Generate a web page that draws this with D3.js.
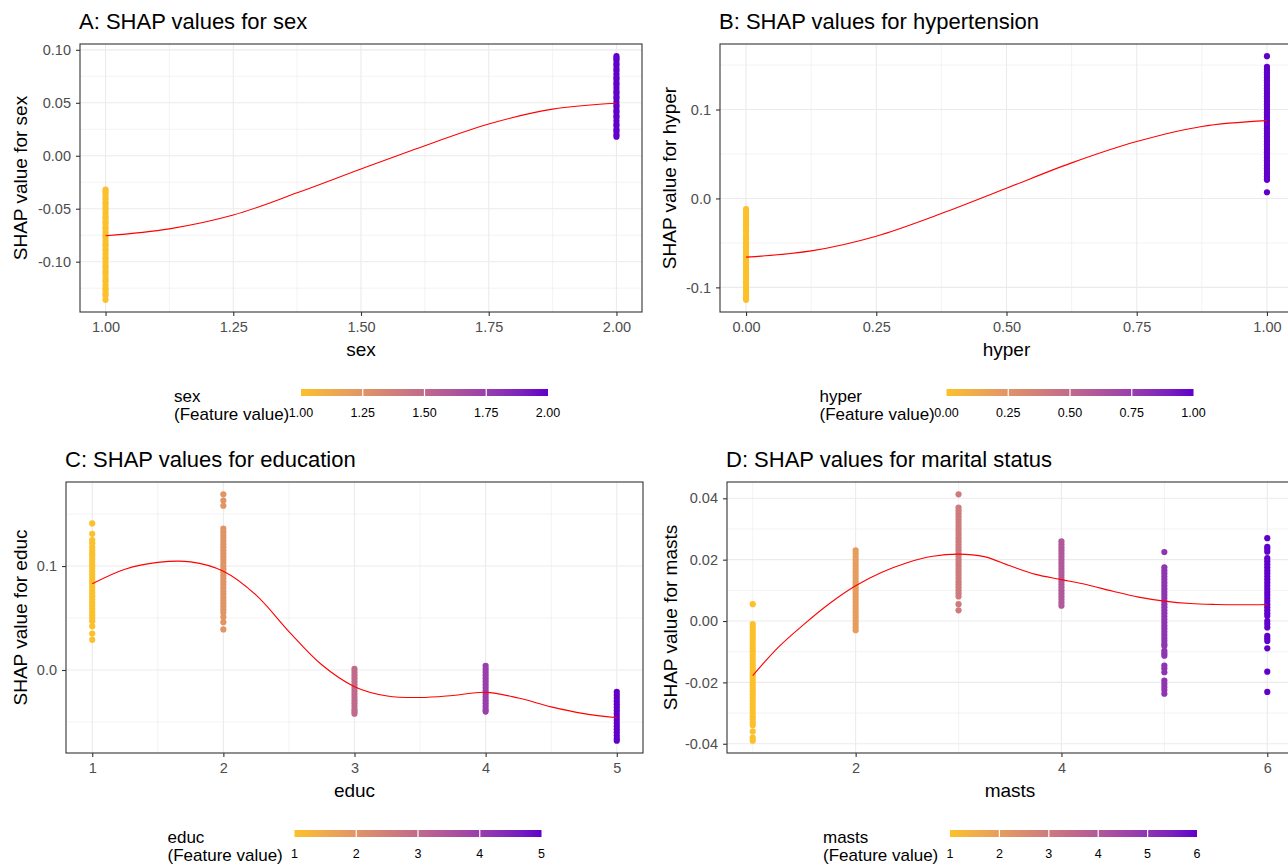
<!DOCTYPE html>
<html>
<head>
<meta charset="utf-8">
<script src="https://cdn.jsdelivr.net/npm/d3@7"></script>
<style>
  body { margin: 0; background: #fff; }
  svg { display: block; font-family: "Liberation Sans", Arial, Helvetica, sans-serif; }
</style>
</head>
<body>
<div id="chart"></div>
<script>
// ---- A: sex ----
const sexValues = [1, 2];
const sexShap = [
  [-0.032, -0.034, -0.036, -0.039, -0.041, -0.044, -0.046, -0.049, -0.051, -0.054, -0.057, -0.059, -0.062, -0.064,
   -0.067, -0.069, -0.072, -0.075, -0.077, -0.080, -0.083, -0.085, -0.088, -0.090, -0.093, -0.096, -0.098, -0.101,
   -0.104, -0.106, -0.109, -0.111, -0.114, -0.117, -0.119, -0.122, -0.125, -0.127, -0.130, -0.132, -0.136],
  [0.018, 0.020, 0.023, 0.025, 0.028, 0.030, 0.033, 0.036, 0.038, 0.041, 0.043, 0.046, 0.048, 0.051, 0.054, 0.056,
   0.059, 0.061, 0.064, 0.067, 0.069, 0.072, 0.074, 0.077, 0.080, 0.082, 0.085, 0.087, 0.090, 0.092, 0.094]
];
const sexSmoothX = [1, 1.125, 1.25, 1.375, 1.5, 1.625, 1.75, 1.875, 2];
const sexSmoothY = [-0.0755, -0.0690, -0.0560, -0.0350, -0.0125, 0.0095, 0.0300, 0.0440, 0.0495];
const sexXTicks = ["1.00", "1.25", "1.50", "1.75", "2.00"];
const sexYTicks = ["-0.10", "-0.05", "0.00", "0.05", "0.10"];
const sexLegendTicks = ["1.00", "1.25", "1.50", "1.75", "2.00"];

// ---- B: hypertension ----
const hyperValues = [0, 1];
const hyperShap = [
  [-0.012, -0.015, -0.017, -0.020, -0.023, -0.026, -0.029, -0.032, -0.035, -0.037, -0.040, -0.043, -0.046, -0.049,
   -0.052, -0.055, -0.058, -0.061, -0.063, -0.066, -0.069, -0.072, -0.075, -0.078, -0.081, -0.084, -0.087, -0.090,
   -0.093, -0.096, -0.099, -0.102, -0.105, -0.108, -0.111, -0.114],
  [0.160, 0.148, 0.145, 0.142, 0.139, 0.136, 0.133, 0.130, 0.127, 0.124, 0.121, 0.118, 0.115, 0.112, 0.109, 0.106,
   0.103, 0.100, 0.097, 0.094, 0.091, 0.088, 0.085, 0.082, 0.079, 0.076, 0.073, 0.070, 0.067, 0.064, 0.061, 0.058,
   0.055, 0.052, 0.049, 0.046, 0.043, 0.040, 0.037, 0.034, 0.031, 0.028, 0.025, 0.022, 0.021, 0.007]
];
const hyperSmoothX = [0, 0.125, 0.25, 0.375, 0.5, 0.625, 0.75, 0.875, 1];
const hyperSmoothY = [-0.066, -0.059, -0.0425, -0.017, 0.0115, 0.040, 0.064, 0.081, 0.0875];
const hyperXTicks = ["0.00", "0.25", "0.50", "0.75", "1.00"];
const hyperYTicks = ["-0.1", "0.0", "0.1"];
const hyperLegendTicks = ["0.00", "0.25", "0.50", "0.75", "1.00"];

// ---- C: education ----
const educValues = [1, 2, 3, 4, 5];
const educShap = [
  [0.141, 0.131, 0.125, 0.122, 0.118, 0.115, 0.112, 0.110, 0.107, 0.104, 0.101, 0.098, 0.095, 0.092, 0.089, 0.086,
   0.083, 0.080, 0.077, 0.074, 0.071, 0.068, 0.065, 0.062, 0.059, 0.056, 0.053, 0.050, 0.047, 0.042, 0.035, 0.029],
  [0.169, 0.163, 0.158, 0.136, 0.133, 0.130, 0.127, 0.124, 0.121, 0.118, 0.115, 0.112, 0.109, 0.106, 0.103, 0.100,
   0.097, 0.094, 0.091, 0.088, 0.085, 0.082, 0.079, 0.076, 0.073, 0.070, 0.067, 0.064, 0.061, 0.058, 0.055, 0.051,
   0.046, 0.039],
  [0.001, -0.002, -0.005, -0.008, -0.011, -0.014, -0.017, -0.020, -0.023, -0.026, -0.029, -0.032, -0.035, -0.038,
   -0.040, -0.042],
  [0.004, 0.001, -0.002, -0.005, -0.008, -0.011, -0.014, -0.017, -0.020, -0.023, -0.026, -0.029, -0.032, -0.035,
   -0.038, -0.040],
  [-0.021, -0.024, -0.027, -0.030, -0.033, -0.036, -0.039, -0.042, -0.045, -0.048, -0.051, -0.054, -0.057, -0.060,
   -0.063, -0.066, -0.068]
];
const educSmoothX = [1, 1.25, 1.5, 1.75, 2, 2.25, 2.5, 2.75, 3, 3.25, 3.5, 3.75, 4, 4.25, 4.5, 4.75, 5];
const educSmoothY = [0.083, 0.097, 0.1035, 0.104, 0.095, 0.072, 0.037, 0.005, -0.016, -0.025, -0.0265, -0.0245,
                     -0.0215, -0.027, -0.0355, -0.042, -0.046];
const educXTicks = ["1", "2", "3", "4", "5"];
const educYTicks = ["0.0", "0.1"];
const educLegendTicks = ["1", "2", "3", "4", "5"];

// ---- D: marital status ----
const mastsValues = [1, 2, 3, 4, 5, 6];
const mastsShap = [
  [0.0055, -0.001, -0.002, -0.003, -0.004, -0.005, -0.006, -0.007, -0.008, -0.009, -0.010, -0.011, -0.012, -0.013,
   -0.014, -0.015, -0.016, -0.017, -0.018, -0.019, -0.020, -0.021, -0.022, -0.023, -0.024, -0.025, -0.026, -0.027,
   -0.028, -0.029, -0.030, -0.031, -0.032, -0.033, -0.034, -0.036, -0.038, -0.039],
  [0.023, 0.022, 0.021, 0.020, 0.019, 0.018, 0.017, 0.016, 0.015, 0.014, 0.013, 0.012, 0.011, 0.010, 0.009, 0.008,
   0.007, 0.006, 0.005, 0.004, 0.003, 0.002, 0.001, 0.000, -0.001, -0.002, -0.003],
  [0.0413, 0.037, 0.036, 0.035, 0.034, 0.033, 0.032, 0.031, 0.030, 0.029, 0.028, 0.027, 0.026, 0.025, 0.024, 0.023,
   0.022, 0.021, 0.020, 0.019, 0.018, 0.017, 0.016, 0.015, 0.014, 0.013, 0.012, 0.011, 0.010, 0.009, 0.008, 0.0055,
   0.0035],
  [0.026, 0.025, 0.024, 0.023, 0.022, 0.021, 0.020, 0.019, 0.018, 0.017, 0.016, 0.015, 0.014, 0.013, 0.012, 0.011,
   0.010, 0.009, 0.008, 0.007, 0.006, 0.005],
  [0.0225, 0.0175, 0.0165, 0.0155, 0.0145, 0.0135, 0.0125, 0.0115, 0.0105, 0.0095, 0.0085, 0.0075, 0.0065, 0.0055,
   0.0045, 0.0035, 0.0025, 0.0015, 0.0005, -0.0005, -0.0015, -0.0025, -0.0035, -0.0045, -0.0055, -0.0065, -0.0075,
   -0.0081, -0.0097, -0.0105, -0.0113, -0.0145, -0.0155, -0.0167, -0.0194, -0.0205, -0.0215, -0.0225, -0.0237],
  [0.027, 0.0242, 0.0235, 0.0226, 0.0205, 0.0195, 0.0185, 0.0175, 0.0165, 0.0155, 0.0145, 0.0135, 0.0125, 0.0115,
   0.0105, 0.0095, 0.0085, 0.0075, 0.0065, 0.0055, 0.0045, 0.0035, 0.0025, 0.0016, 0.000, -0.001, -0.0021, -0.0048,
   -0.0056, -0.0065, -0.0089, -0.0165, -0.0231]
];
const mastsSmoothX = [1, 1.25, 1.5, 1.75, 2, 2.25, 2.5, 2.75, 3, 3.25, 3.5, 3.75, 4, 4.25, 4.5, 4.75, 5, 5.25, 5.5,
                      5.75, 6];
const mastsSmoothY = [-0.0178, -0.0085, -0.001, 0.0058, 0.0115, 0.0158, 0.019, 0.0211, 0.0218, 0.021, 0.018, 0.0152,
                      0.0135, 0.0118, 0.0097, 0.0078, 0.0065, 0.0057, 0.0054, 0.0053, 0.0054];
const mastsXTicks = ["2", "4", "6"];
const mastsYTicks = ["-0.04", "-0.02", "0.00", "0.02", "0.04"];
const mastsLegendTicks = ["1", "2", "3", "4", "5", "6"];

// colour gradient ends (low -> high feature value)
const LOW = "#FCC02B";
const HIGH = "#6000CA";

const W = 1288, H = 864;
const svg = d3.select("#chart").append("svg").attr("width", W).attr("height", H);

const panels = [
  { id: "a", title: "A: SHAP values for sex", feature: "sex", values: sexValues, shap: sexShap,
    smoothX: sexSmoothX, smoothY: sexSmoothY, xTicks: sexXTicks, yTicks: sexYTicks, legendTicks: sexLegendTicks,
    left: 80, right: 642, top: 44, bottom: 312, yTitleX: 20 },
  { id: "b", title: "B: SHAP values for hypertension", feature: "hyper", values: hyperValues, shap: hyperShap,
    smoothX: hyperSmoothX, smoothY: hyperSmoothY, xTicks: hyperXTicks, yTicks: hyperYTicks, legendTicks: hyperLegendTicks,
    left: 720, right: 1293, top: 44, bottom: 312, yTitleX: 669 },
  { id: "c", title: "C: SHAP values for education", feature: "educ", values: educValues, shap: educShap,
    smoothX: educSmoothX, smoothY: educSmoothY, xTicks: educXTicks, yTicks: educYTicks, legendTicks: educLegendTicks,
    left: 66, right: 643, top: 482, bottom: 753, yTitleX: 20 },
  { id: "d", title: "D: SHAP values for marital status", feature: "masts", values: mastsValues, shap: mastsShap,
    smoothX: mastsSmoothX, smoothY: mastsSmoothY, xTicks: mastsXTicks, yTicks: mastsYTicks, legendTicks: mastsLegendTicks,
    left: 727, right: 1293, top: 482, bottom: 753, yTitleX: 670 }
];

// ggplot style 5% expansion
function expand([a, b]) {
  const d = (b - a) * 0.05;
  return [a - d, b + d];
}

// minor breaks halfway between major ones
function minorOf(ticks, domain) {
  const step = ticks[1] - ticks[0];
  const out = [];
  for (let i = -1; i < ticks.length; i++) out.push(ticks[0] + (i + 0.5) * step);
  return out.filter(v => v > domain[0] && v < domain[1]);
}

panels.forEach(drawPanel);

function drawPanel(p) {
  const g = svg.append("g").attr("class", "panel-" + p.id);

  const xDomain = expand(d3.extent(p.values));
  const yDomain = expand(d3.extent(p.shap.flat().concat(p.smoothY)));
  const x = d3.scaleLinear().domain(xDomain).range([p.left, p.right]);
  const y = d3.scaleLinear().domain(yDomain).range([p.bottom, p.top]);
  const color = d3.scaleLinear().domain(d3.extent(p.values)).range([LOW, HIGH]).interpolate(d3.interpolateLab);

  const xMajor = p.xTicks.map(Number);
  const yMajor = p.yTicks.map(Number);

  // panel background + grid
  g.append("rect")
    .attr("x", p.left).attr("y", p.top)
    .attr("width", p.right - p.left).attr("height", p.bottom - p.top)
    .attr("fill", "#fff");

  const grid = g.append("g").attr("stroke", "#EBEBEB");
  grid.selectAll(".xminor").data(minorOf(xMajor, xDomain)).join("line")
    .attr("x1", d => x(d)).attr("x2", d => x(d)).attr("y1", p.top).attr("y2", p.bottom)
    .attr("stroke-width", 0.6);
  grid.selectAll(".yminor").data(minorOf(yMajor, yDomain)).join("line")
    .attr("y1", d => y(d)).attr("y2", d => y(d)).attr("x1", p.left).attr("x2", p.right)
    .attr("stroke-width", 0.6);
  grid.selectAll(".xmajor").data(xMajor).join("line")
    .attr("x1", d => x(d)).attr("x2", d => x(d)).attr("y1", p.top).attr("y2", p.bottom)
    .attr("stroke-width", 1.1);
  grid.selectAll(".ymajor").data(yMajor).join("line")
    .attr("y1", d => y(d)).attr("y2", d => y(d)).attr("x1", p.left).attr("x2", p.right)
    .attr("stroke-width", 1.1);

  // points
  const pts = p.values.flatMap((v, i) => p.shap[i].map(s => ({ v, s })));
  g.append("g").selectAll("circle").data(pts).join("circle")
    .attr("cx", d => x(d.v)).attr("cy", d => y(d.s))
    .attr("r", 3.1)
    .attr("fill", d => color(d.v));

  // loess-like smooth
  const line = d3.line()
    .x(d => x(d[0])).y(d => y(d[1]))
    .curve(d3.curveCatmullRom.alpha(0.5));
  g.append("path")
    .datum(p.smoothX.map((v, i) => [v, p.smoothY[i]]))
    .attr("d", line)
    .attr("fill", "none")
    .attr("stroke", "#FF0000")
    .attr("stroke-width", 1.1);

  // border
  g.append("rect")
    .attr("x", p.left).attr("y", p.top)
    .attr("width", p.right - p.left).attr("height", p.bottom - p.top)
    .attr("fill", "none").attr("stroke", "#333333").attr("stroke-width", 1.1);

  // axes
  const xAxis = g.append("g")
    .attr("transform", `translate(0,${p.bottom})`)
    .call(d3.axisBottom(x).tickValues(xMajor).tickFormat((d, i) => p.xTicks[i]).tickSize(4).tickPadding(6));
  const yAxis = g.append("g")
    .attr("transform", `translate(${p.left},0)`)
    .call(d3.axisLeft(y).tickValues(yMajor).tickFormat((d, i) => p.yTicks[i]).tickSize(4).tickPadding(5));
  [xAxis, yAxis].forEach(a => {
    a.select(".domain").remove();
    a.selectAll(".tick line").attr("stroke", "#333333").attr("stroke-width", 1.1);
    a.selectAll(".tick text").attr("fill", "#4D4D4D").style("font-size", "14.5px")
      .style("font-family", "Liberation Sans, Arial, sans-serif");
  });

  // titles
  g.append("text")
    .attr("x", p.left - 1).attr("y", p.top - 15)
    .style("font-size", "22px").attr("fill", "#000")
    .text(p.title);

  g.append("text")
    .attr("x", (p.left + p.right) / 2).attr("y", p.bottom + 44)
    .attr("text-anchor", "middle").style("font-size", "19px")
    .text(p.feature);

  g.append("text")
    .attr("transform", `translate(${p.yTitleX},${(p.top + p.bottom) / 2}) rotate(-90)`)
    .attr("dy", "0.35em")
    .attr("text-anchor", "middle").style("font-size", "19px")
    .text("SHAP value for " + p.feature);

  // colourbar legend, centred under the panel
  const barW = 247, barH = 7, titleGap = 127;
  const legLeft = (p.left + p.right) / 2 - (titleGap + barW) / 2;
  const barLeft = legLeft + titleGap;
  const barTop = p.bottom + 77;

  const gradId = "grad-" + p.id;
  const grad = svg.append("defs").append("linearGradient").attr("id", gradId);
  const [vmin, vmax] = d3.extent(p.values);
  grad.selectAll("stop").data(d3.range(0, 11)).join("stop")
    .attr("offset", d => d * 10 + "%")
    .attr("stop-color", d => color(vmin + (vmax - vmin) * d / 10));

  const leg = g.append("g");
  leg.append("rect")
    .attr("x", barLeft).attr("y", barTop).attr("width", barW).attr("height", barH)
    .attr("fill", `url(#${gradId})`);

  const lx = d3.scaleLinear().domain([vmin, vmax]).range([barLeft, barLeft + barW]);
  const legTicks = p.legendTicks.map(Number);
  leg.selectAll(".ltick").data(legTicks.slice(1, -1)).join("line")
    .attr("x1", d => lx(d)).attr("x2", d => lx(d))
    .attr("y1", barTop).attr("y2", barTop + barH)
    .attr("stroke", "#fff").attr("stroke-width", 1.2);
  leg.selectAll(".llabel").data(legTicks).join("text")
    .attr("x", d => lx(d)).attr("y", barTop + 28)
    .attr("text-anchor", "middle").attr("fill", "#000").style("font-size", "12.5px")
    .text((d, i) => p.legendTicks[i]);

  leg.append("text").attr("x", legLeft).attr("y", barTop + 13)
    .style("font-size", "17px").text(p.feature);
  leg.append("text").attr("x", legLeft).attr("y", barTop + 31)
    .style("font-size", "17px").text("(Feature value)");
}
</script>
</body>
</html>
